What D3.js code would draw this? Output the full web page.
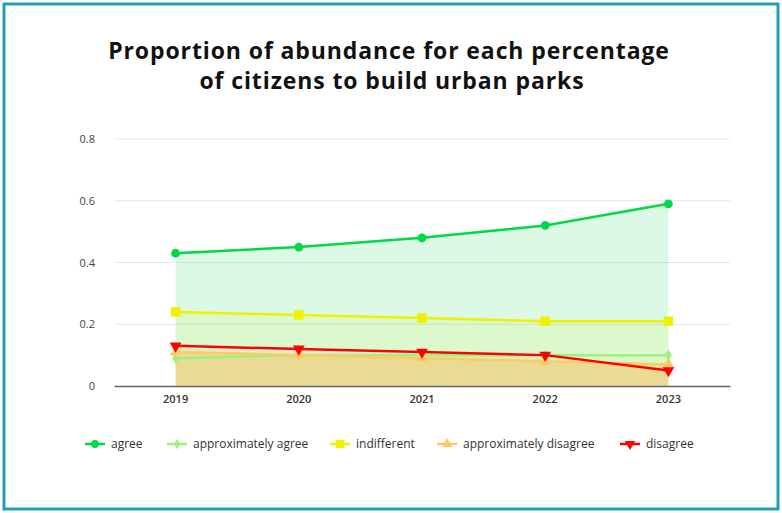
<!DOCTYPE html>
<html>
<head>
<meta charset="utf-8">
<script src="https://cdn.jsdelivr.net/npm/d3@7"></script>
<style>
  body { margin: 0; background: #fff; }
  svg { display: block; font-family: "Open Sans", Lato, sans-serif; }
</style>
</head>
<body>
<script>
// chart data
const years = ['2019', '2020', '2021', '2022', '2023']
const agree = [0.43, 0.45, 0.48, 0.52, 0.59]
const approxAgree = [0.09, 0.10, 0.10, 0.10, 0.10]
const indifferent = [0.24, 0.23, 0.22, 0.21, 0.21]
const approxDisagree = [0.11, 0.10, 0.09, 0.08, 0.07]
const disagree = [0.13, 0.12, 0.11, 0.10, 0.05]
const yTicks = [0, 0.2, 0.4, 0.6, 0.8]
const seriesNames = ['agree', 'approximately agree', 'indifferent', 'approximately disagree', 'disagree']

let width = 782
let height = 513
let margin = { top: 139, bottom: 127, left: 114, right: 52 }

const series = [
  { name: seriesNames[0], values: agree, color: '#00d845', symbol: d3.symbolCircle, size: 60, fill: 0.14 },
  { name: seriesNames[1], values: approxAgree, color: '#9cf27c', symbol: d3.symbolDiamond, size: 40, fill: 0.06 },
  { name: seriesNames[2], values: indifferent, color: '#eef200', symbol: d3.symbolSquare, size: 90, fill: 0.1 },
  { name: seriesNames[3], values: approxDisagree, color: '#ffc966', symbol: d3.symbolTriangle, size: 60, fill: 0.45 },
  { name: seriesNames[4], values: disagree, color: '#ff0000', symbol: d3.symbolTriangle, size: 60, fill: 0.04, flip: true }
]

const svg = d3.select('body')
  .append('svg')
  .attr('width', width)
  .attr('height', height)

// frame
svg.append('rect')
  .attr('x', 4).attr('y', 4)
  .attr('width', width - 8).attr('height', height - 8)
  .attr('fill', 'none')
  .attr('stroke', '#1e9fb5')
  .attr('stroke-width', 3)

// Title
const title = svg.append('text')
  .attr('text-anchor', 'middle')
  .style('font-size', '23px')
  .style('font-weight', 'bold')
  .style('letter-spacing', '0.9px')
  .attr('fill', '#111')
title.append('tspan').attr('x', 389).attr('y', 59).text('Proportion of abundance for each percentage')
title.append('tspan').attr('x', 392).attr('y', 89).text('of citizens to build urban parks')

// scales
const x = d3.scaleBand()
  .domain(years)
  .range([margin.left, width - margin.right])

const y = d3.scaleLinear()
  .domain([0, 0.8])
  .range([height - margin.bottom, margin.top])

const cx = (d) => x(d) + x.bandwidth() / 2

// grid
svg.append('g')
  .selectAll('line')
  .data(yTicks.filter((t) => t > 0))
  .enter()
  .append('line')
  .attr('x1', margin.left)
  .attr('x2', width - margin.right)
  .attr('y1', (d) => y(d))
  .attr('y2', (d) => y(d))
  .attr('stroke', '#e6e6e6')
  .attr('stroke-width', 1)

// Y axis labels
const yAxis = svg.append('g')
  .attr('transform', `translate(${margin.left - 16},0)`)
  .call(d3.axisLeft(y).tickValues(yTicks).tickFormat((d) => d === 0 ? '0' : d3.format('.1f')(d)).tickSize(0))
yAxis.select('.domain').remove()
yAxis.selectAll('text')
  .attr('fill', '#444')
  .style('font-size', '11px')
  .style('font-family', '"Open Sans", sans-serif')

// areas
const area = d3.area()
  .x((d, i) => cx(years[i]))
  .y0(y(0))
  .y1((d) => y(d))

const line = d3.line()
  .x((d, i) => cx(years[i]))
  .y((d) => y(d))

series.forEach((s) => {
  svg.append('path')
    .datum(s.values)
    .attr('d', area)
    .attr('fill', s.color)
    .attr('fill-opacity', s.fill)
})

// X axis
const xAxis = svg.append('g')
  .attr('transform', `translate(0,${y(0)})`)
  .call(d3.axisBottom(x).tickSize(0).tickPadding(9))
xAxis.select('.domain').attr('stroke', '#666').attr('stroke-width', 1.5)
xAxis.selectAll('text')
  .attr('fill', '#333')
  .style('font-size', '11px')
  .style('font-weight', '600')
  .style('font-family', '"Open Sans", sans-serif')

// lines + markers
series.forEach((s) => {
  svg.append('path')
    .datum(s.values)
    .attr('d', line)
    .attr('fill', 'none')
    .attr('stroke', s.color)
    .attr('stroke-width', 2.5)

  svg.append('g')
    .selectAll('path')
    .data(s.values)
    .enter()
    .append('path')
    .attr('d', d3.symbol().type(s.symbol).size(s.size))
    .attr('transform', (d, i) => `translate(${cx(years[i])},${y(d)})${s.flip ? ' rotate(180)' : ''}`)
    .attr('fill', s.color)
})

// Legend
const legendX = [85, 167, 330, 437, 620]
const legend = svg.append('g')
  .selectAll('g')
  .data(series)
  .enter()
  .append('g')
  .attr('transform', (d, i) => `translate(${legendX[i]},444)`)

legend.append('line')
  .attr('x1', 0).attr('x2', 20)
  .attr('stroke', (d) => d.color)
  .attr('stroke-width', 2.5)
legend.append('path')
  .attr('d', (d) => d3.symbol().type(d.symbol).size(d.size * 0.8)())
  .attr('transform', (d) => `translate(10,0)${d.flip ? ' rotate(180)' : ''}`)
  .attr('fill', (d) => d.color)
legend.append('text')
  .attr('x', 26)
  .attr('dy', '0.35em')
  .attr('fill', '#333')
  .style('font-size', '12px')
  .text((d) => d.name)
</script>
</body>
</html>
